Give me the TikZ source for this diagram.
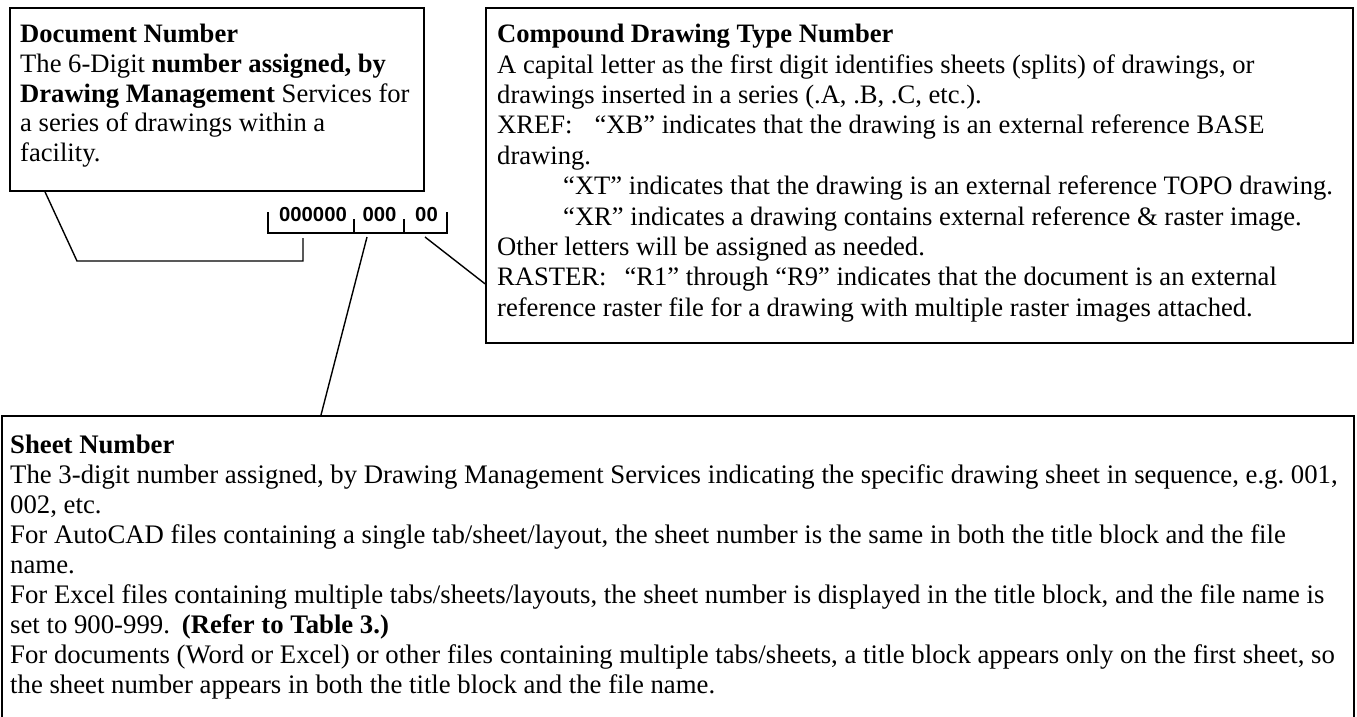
\documentclass[tikz,border=0pt]{standalone}
\usepackage{fontspec}
\setmainfont{Liberation Serif}
\newfontfamily\digitfont{Liberation Sans}
\usetikzlibrary{positioning}
\frenchspacing

\begin{document}
\begin{tikzpicture}[x=1pt, y=-1pt,
  frame/.style={draw=black, line width=1.8pt, anchor=north west, inner sep=0pt},
  note/.style={anchor=north west, inner sep=0pt, align=left,
              font=\fontsize{26.6}{30.4}\selectfont},
  digits/.style={anchor=base, inner sep=0pt,
              font=\digitfont\bfseries\fontsize{20.3}{20}\selectfont},
  tick/.style={draw=black, line width=1.3pt},
  lead/.style={draw=black, line width=1.4pt}]

  \useasboundingbox (0,0) rectangle (1357,717);

  % the three boxes
  \node[frame, minimum width=414pt, minimum height=183pt] (docbox) at (9,7) {};
  \node[frame, minimum width=867pt, minimum height=335pt] (compbox) at (485,7) {};
  \node[frame, minimum width=1352pt, minimum height=330pt] (sheetbox) at (1,415) {};

  \node[note, font=\fontsize{26.6}{29.7}\selectfont] (doctxt) at (20,24) {\textbf{Document Number}\\
    The 6-Digit \textbf{number assigned, by}\\
    \textbf{Drawing Management} Services for\\
    a series of drawings within a\\
    facility.};

  \node[note] (comptxt) at (497,24) {\textbf{Compound Drawing Type Number}\\
    A capital letter as the first digit identifies sheets (splits) of drawings, or\\
    drawings inserted in a series (.A, .B, .C, etc.).\\
    XREF:\hspace{22pt}“XB” indicates that the drawing is an external reference BASE\\
    drawing.\\
    \hspace*{66pt}“XT” indicates that the drawing is an external reference TOPO drawing.\\
    \hspace*{66pt}“XR” indicates a drawing contains external reference \& raster image.\\
    Other letters will be assigned as needed.\\
    RASTER:\hspace{18pt}“R1” through “R9” indicates that the document is an external\\
    reference raster file for a drawing with multiple raster images attached.};

  \node[note, font=\fontsize{26.75}{30}\selectfont] (sheettxt) at (10,435) {\textbf{Sheet Number}\\
    The 3-digit number assigned, by Drawing Management Services indicating the specific drawing sheet in sequence, e.g. 001,\\
    002, etc.\\
    For AutoCAD files containing a single tab/sheet/layout, the sheet number is the same in both the title block and the file\\
    name.\\
    For Excel files containing multiple tabs/sheets/layouts, the sheet number is displayed in the title block, and the file name is\\
    set to 900-999.\hspace{12pt}\textbf{(Refer to Table 3.)}\\
    For documents (Word or Excel) or other files containing multiple tabs/sheets, a title block appears only on the first sheet, so\\
    the sheet number appears in both the title block and the file name.};

  % number groups and bracket
  \node[digits] (grpdoc) at (313,221) {000000};
  \node[digits] (grpsheet) at (379.5,221) {000};
  \node[digits] (grptype) at (426.5,221) {00};
  \draw[tick] (268,212) |- (447,233) -- (447,212);
  \foreach \x in {354,404}
    \draw[tick] (\x,219) -- (\x,233);

  % leaders
  \coordinate (docfoot) at (303,238);
  \coordinate (docbend) at (77,261);
  \coordinate (sheetfoot) at (367,237);
  \coordinate (typefoot) at (425,237);
  \draw[lead] (docfoot) |- (docbend) -- ([xshift=36pt]docbox.south west);
  \draw[lead] (sheetfoot) -- ([xshift=320pt]sheetbox.north west);
  \draw[lead] (typefoot) -- ([yshift=60pt]compbox.south west);
\end{tikzpicture}
\end{document}
